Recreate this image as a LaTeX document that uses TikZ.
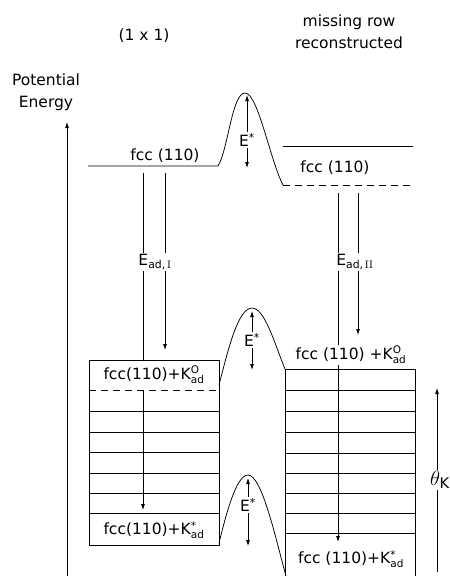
\documentclass[tikz,border=0pt]{standalone}
\usepackage{fontspec}
\setmainfont{DejaVu Sans}
\newfontfamily\romfont{Latin Modern Roman}
\usetikzlibrary{arrows.meta}
\newcommand{\subfs}{\fontsize{10.5}{11}\selectfont}
\newcommand{\Kad}[1]{K$^{\mbox{\subfs #1}}_{\mbox{\subfs ad}}$}

\begin{document}
\begin{tikzpicture}[
    x=1pt, y=-1pt, line width=0.75pt,
    lbl/.style={font=\fontsize{15.5}{22}\selectfont, inner sep=1pt},
    cover/.style={lbl, fill=white},
    arr/.style={-{Latex[length=6pt, width=4pt]}},
]
\useasboundingbox (0,0) rectangle (450,576);

% headings and energy axis
\node[lbl] (h11) at (144,36) {(1 x 1)};
\node[lbl, align=center] (hmr) at (349,32) {missing row\\reconstructed};
\node[lbl, align=center] (pe) at (46,92) {Potential\\Energy};
\coordinate (axbot) at (67,576);
\coordinate (axtop) at (67,122);
\draw[arr] (axbot) -- (axtop);

% clean surfaces and first barrier
\coordinate (l1a) at (88,166);
\coordinate (l1b) at (218,166);
\coordinate (p1) at (245,93);
\coordinate (r1) at (283,185);
\coordinate (r1e) at (413,185);
\draw (l1a) -- (l1b) .. controls (228,150) and (232,93) .. (p1)
      .. controls (258,93) and (270,160) .. (r1);
\draw[dashed, dash pattern=on 7pt off 5pt] (r1) -- (r1e);
\draw (283,146) -- (413,146);
\node[lbl, anchor=south] (fl) at (165,164) {fcc (110)};
\node[lbl] (fr) at (335,168) {fcc (110)};

% left stack (1x1)
\draw (89,360) rectangle (219,545);
\draw[dashed, dash pattern=on 7pt off 5pt] (89,390) -- (219,390);
\foreach \yy in {411,432,452,473,493,513}
    \draw (89,\yy) -- (219,\yy);
\node[lbl] (ko1) at (154,375) {fcc(110)+\Kad{O}};
\node[lbl] (ks1) at (154,530) {fcc(110)+\Kad{*}};

% right stack (missing row)
\draw (285,576) -- (285,369) -- (415,369) -- (415,576);
\foreach \yy in {390,411,432,453,473,493,513,533}
    \draw (285,\yy) -- (415,\yy);
\node[lbl] (ks2) at (351,559) {fcc (110)+\Kad{*}};

% second and third barrier
\coordinate (p2) at (252,308);
\coordinate (p3) at (248,475);
\draw (219,385) .. controls (228,350) and (238,308) .. (p2)
      .. controls (265,308) and (275,345) .. (285,369);
\draw (219,543) .. controls (226,515) and (236,475) .. (p3)
      .. controls (262,475) and (276,540) .. (286,576);

% activation energies
\node[lbl] (e1) at (247,140) {E\textsuperscript{*}};
\coordinate (t1) at (247,95);
\coordinate (b1) at (247,168);
\draw[arr] (e1) -- (t1);
\draw[arr] (e1) -- (b1);
\node[lbl] (e2) at (252,340) {E\textsuperscript{*}};
\coordinate (t2) at (252,311);
\coordinate (b2) at (252,370);
\draw[arr] (e2) -- (t2);
\draw[arr] (e2) -- (b2);
\node[lbl] (e3) at (248,505) {E\textsuperscript{*}};
\coordinate (t3) at (248,478);
\coordinate (b3) at (248,546);
\draw[arr] (e3) -- (t3);
\draw[arr] (e3) -- (b3);

% adsorption energies
\coordinate (a1) at (143,173);
\coordinate (a1b) at (143,360);
\coordinate (a1c) at (143,390);
\coordinate (a1d) at (143,510);
\coordinate (b1a) at (165,173);
\coordinate (b1e) at (165,350);
\draw (a1) -- (a1b);
\draw[arr] (a1c) -- (a1d);
\draw[arr] (b1a) -- (b1e);
\coordinate (c2a) at (338,193);
\coordinate (c2e) at (338,542);
\coordinate (d2a) at (358,193);
\coordinate (d2e) at (358,335);
\draw[arr] (c2a) -- (c2e);
\draw[arr] (d2a) -- (d2e);
\node[cover] (ead1) at (155,262) {E\textsubscript{ad,\,{\romfont I}}};
\node[cover] (ead2) at (355,262) {E\textsubscript{ad,\,{\romfont II}}};
\node[cover] (ko2) at (351,355) {fcc (110) +\Kad{O}};

% coverage
\node[lbl, font=\fontsize{21}{22}\selectfont] (th) at (440,480) {$\theta_{\mathrm{K}}$};
\coordinate (thtop) at (437,388);
\coordinate (thbot) at (437,572);
\draw[arr] (th.north -| thtop) -- (thtop);
\draw (th.south -| thbot) -- (thbot);
\end{tikzpicture}
\end{document}
